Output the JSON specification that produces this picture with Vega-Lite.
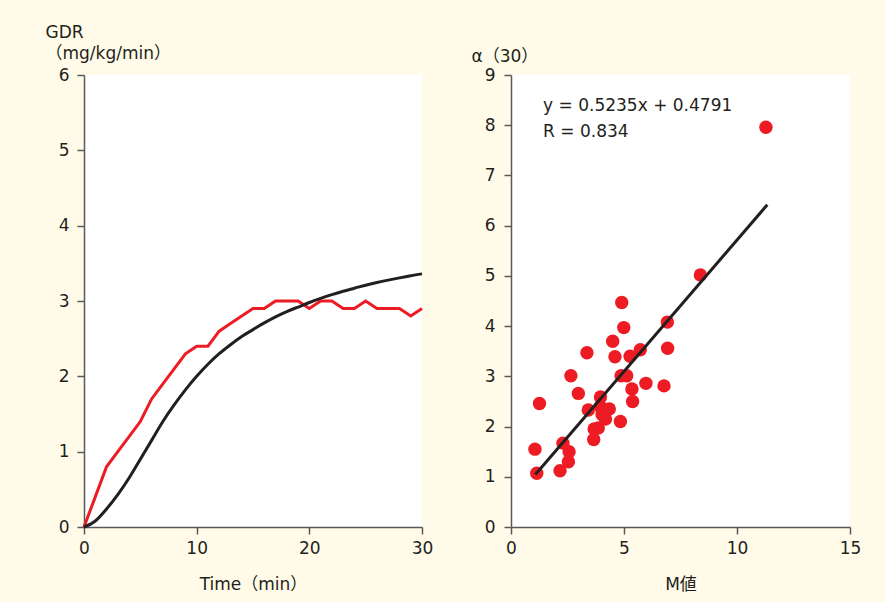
{
  "$schema": "https://vega.github.io/schema/vega-lite/v6.json",
  "autosize": "none",
  "bounds": "flush",
  "padding": {"left": 84, "top": 75, "right": 801, "bottom": 527},
  "background": "#fffbe8",
  "spacing": 89,
  "config": {
    "view": {"fill": "white", "stroke": null},
    "font": "DejaVu Sans, Noto Sans CJK JP",
    "scale": {"zero": false},
    "axis": {
      "grid": false,
      "domainColor": "#58595b",
      "domainWidth": 1.5,
      "tickColor": "#58595b",
      "tickWidth": 1.5,
      "tickSize": 7,
      "labelFlush": false,
      "labelOverlap": false,
      "labelFontSize": 17,
      "labelColor": "#231f20",
      "labelFont": "DejaVu Sans, Noto Sans CJK JP",
      "titleFont": "DejaVu Sans, Noto Sans CJK JP",
      "titleFontSize": 17,
      "titleFontWeight": "normal",
      "titleColor": "#231f20",
      "format": "d"
    }
  },
  "datasets": {
    "measured": [
      {"t": 0, "gdr": 0}, {"t": 1, "gdr": 0.4}, {"t": 2, "gdr": 0.8}, {"t": 3, "gdr": 1.0},
      {"t": 4, "gdr": 1.2}, {"t": 5, "gdr": 1.4}, {"t": 6, "gdr": 1.7}, {"t": 7, "gdr": 1.9},
      {"t": 8, "gdr": 2.1}, {"t": 9, "gdr": 2.3}, {"t": 10, "gdr": 2.4}, {"t": 11, "gdr": 2.4},
      {"t": 12, "gdr": 2.6}, {"t": 13, "gdr": 2.7}, {"t": 14, "gdr": 2.8}, {"t": 15, "gdr": 2.9},
      {"t": 16, "gdr": 2.9}, {"t": 17, "gdr": 3.0}, {"t": 18, "gdr": 3.0}, {"t": 19, "gdr": 3.0},
      {"t": 20, "gdr": 2.9}, {"t": 21, "gdr": 3.0}, {"t": 22, "gdr": 3.0}, {"t": 23, "gdr": 2.9},
      {"t": 24, "gdr": 2.9}, {"t": 25, "gdr": 3.0}, {"t": 26, "gdr": 2.9}, {"t": 27, "gdr": 2.9},
      {"t": 28, "gdr": 2.9}, {"t": 29, "gdr": 2.8}, {"t": 30, "gdr": 2.9}
    ],
    "model": [
      {"t": 0, "gdr": 0}, {"t": 1, "gdr": 0.08}, {"t": 2, "gdr": 0.24}, {"t": 3, "gdr": 0.43},
      {"t": 4, "gdr": 0.65}, {"t": 5, "gdr": 0.9}, {"t": 6, "gdr": 1.15}, {"t": 7, "gdr": 1.4},
      {"t": 8, "gdr": 1.62}, {"t": 9, "gdr": 1.82}, {"t": 10, "gdr": 2.0}, {"t": 11, "gdr": 2.16},
      {"t": 12, "gdr": 2.3}, {"t": 13, "gdr": 2.42}, {"t": 14, "gdr": 2.53}, {"t": 15, "gdr": 2.62},
      {"t": 16, "gdr": 2.71}, {"t": 17, "gdr": 2.79}, {"t": 18, "gdr": 2.86}, {"t": 19, "gdr": 2.92},
      {"t": 20, "gdr": 2.98}, {"t": 21, "gdr": 3.035}, {"t": 22, "gdr": 3.085}, {"t": 23, "gdr": 3.13},
      {"t": 24, "gdr": 3.17}, {"t": 25, "gdr": 3.21}, {"t": 26, "gdr": 3.245}, {"t": 27, "gdr": 3.277},
      {"t": 28, "gdr": 3.307}, {"t": 29, "gdr": 3.335}, {"t": 30, "gdr": 3.36}
    ],
    "points": [
      {"M": 4.90, "alpha": 4.47}, {"M": 4.99, "alpha": 3.97}, {"M": 6.92, "alpha": 4.08},
      {"M": 4.50, "alpha": 3.70}, {"M": 3.36, "alpha": 3.47}, {"M": 4.60, "alpha": 3.39},
      {"M": 5.27, "alpha": 3.40}, {"M": 5.72, "alpha": 3.53}, {"M": 6.93, "alpha": 3.56},
      {"M": 2.65, "alpha": 3.01}, {"M": 4.87, "alpha": 3.01}, {"M": 5.12, "alpha": 3.01},
      {"M": 5.97, "alpha": 2.86}, {"M": 6.77, "alpha": 2.81}, {"M": 5.35, "alpha": 2.75},
      {"M": 2.98, "alpha": 2.66}, {"M": 5.38, "alpha": 2.50}, {"M": 3.96, "alpha": 2.59},
      {"M": 1.26, "alpha": 2.46}, {"M": 3.42, "alpha": 2.33}, {"M": 4.35, "alpha": 2.35},
      {"M": 3.95, "alpha": 2.40}, {"M": 4.03, "alpha": 2.24}, {"M": 4.18, "alpha": 2.15},
      {"M": 4.84, "alpha": 2.10}, {"M": 3.68, "alpha": 1.95}, {"M": 3.86, "alpha": 1.97},
      {"M": 3.66, "alpha": 1.74}, {"M": 1.06, "alpha": 1.55}, {"M": 2.30, "alpha": 1.67},
      {"M": 2.57, "alpha": 1.50}, {"M": 2.54, "alpha": 1.30}, {"M": 2.17, "alpha": 1.12},
      {"M": 1.14, "alpha": 1.07}, {"M": 8.38, "alpha": 5.02}, {"M": 11.28, "alpha": 7.96}
    ],
    "fit": [
      {"M": 1.08, "alpha": 1.044}, {"M": 11.34, "alpha": 6.416}
    ]
  },
  "hconcat": [
    {
      "width": 338,
      "height": 452,
      "layer": [
        {
          "data": {"name": "measured"},
          "mark": {"type": "line", "color": "#ed1c24", "strokeWidth": 3},
          "encoding": {
            "x": {"field": "t", "type": "quantitative", "scale": {"domain": [0, 30], "nice": false},
              "axis": {"title": "Time（min）", "values": [0, 10, 20, 30], "labelPadding": 6, "titlePadding": 20}},
            "y": {"field": "gdr", "type": "quantitative", "scale": {"domain": [0, 6], "nice": false},
              "axis": {"title": ["GDR", "（mg/kg/min）"], "values": [0, 1, 2, 3, 4, 5, 6], "labelPadding": 8,
                "titleAngle": 0, "titleAlign": "left", "titleBaseline": "alphabetic", "titleX": -39, "titleY": -38, "titleLineHeight": 21}}
          }
        },
        {
          "data": {"name": "model"},
          "mark": {"type": "line", "color": "#231f20", "strokeWidth": 3, "interpolate": "monotone"},
          "encoding": {
            "x": {"field": "t", "type": "quantitative"},
            "y": {"field": "gdr", "type": "quantitative"}
          }
        }
      ]
    },
    {
      "width": 339,
      "height": 452,
      "layer": [
        {
          "data": {"name": "points"},
          "mark": {"type": "circle", "color": "#ed1c24", "size": 180, "opacity": 1},
          "encoding": {
            "x": {"field": "M", "type": "quantitative", "scale": {"domain": [0, 15], "nice": false},
              "axis": {"title": "M値", "values": [0, 5, 10, 15], "labelPadding": 6, "titlePadding": 20}},
            "y": {"field": "alpha", "type": "quantitative", "scale": {"domain": [0, 9], "nice": false},
              "axis": {"title": "α（30）", "values": [0, 1, 2, 3, 4, 5, 6, 7, 8, 9], "labelPadding": 9,
                "titleAngle": 0, "titleAlign": "left", "titleBaseline": "alphabetic", "titleX": -40, "titleY": -14, "titleFontStyle": "normal"}}
          }
        },
        {
          "data": {"name": "fit"},
          "mark": {"type": "line", "color": "#231f20", "strokeWidth": 3},
          "encoding": {
            "x": {"field": "M", "type": "quantitative"},
            "y": {"field": "alpha", "type": "quantitative"}
          }
        },
        {
          "data": {"values": [{}]},
          "mark": {"type": "text", "text": ["y = 0.5235x + 0.4791", "R = 0.834"], "align": "left", "baseline": "alphabetic",
            "fontSize": 17, "lineHeight": 26, "color": "#231f20", "font": "DejaVu Sans"},
          "encoding": {
            "x": {"datum": 1.42, "type": "quantitative"},
            "y": {"datum": 8.28, "type": "quantitative"}
          }
        }
      ]
    }
  ]
}
